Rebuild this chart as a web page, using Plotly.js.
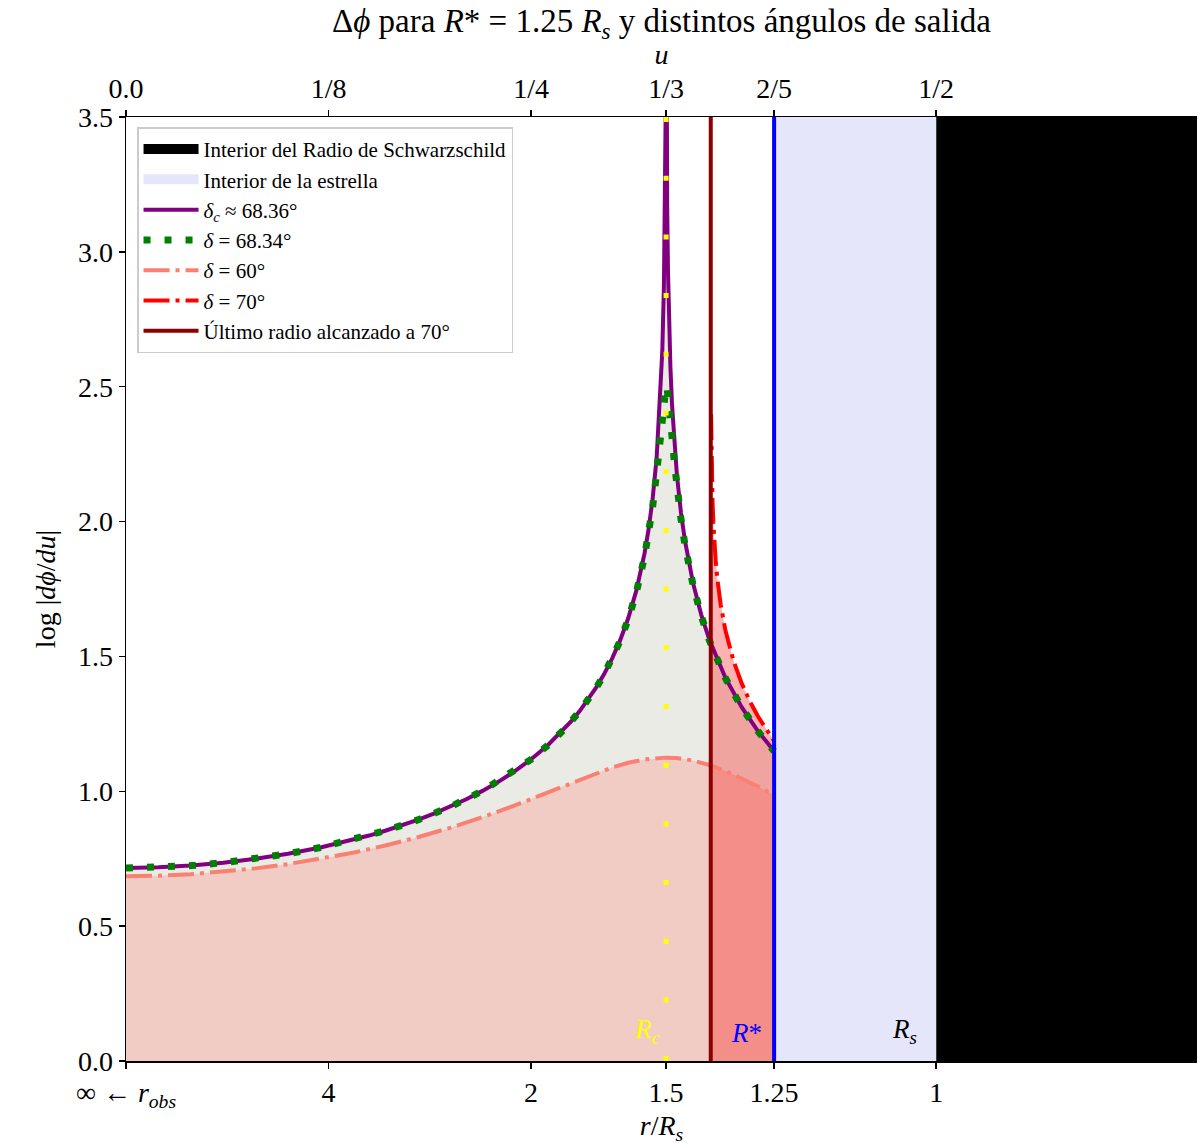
<!DOCTYPE html>
<html>
<head>
<meta charset="utf-8">
<script src="https://cdn.plot.ly/plotly-3.0.1.min.js"></script>
<style>
html, body { margin: 0; padding: 0; background: #ffffff; }
#chart { width: 1199px; height: 1147px; }
</style>
</head>
<body>
<div id="chart"></div>
<script>
// ---- data ----
// u values and log|dphi/du| for the critical angle delta_c ~ 68.36 deg
const uCrit = [0,0.02,0.04,0.06,0.08,0.10,0.12,0.14,0.15,0.16,0.17,0.18,0.19,0.20,0.21,0.22,0.23,0.24,0.25,0.26,0.27,0.275,0.28,0.285,0.29,0.295,0.30,0.305,0.31,0.315,0.32,0.3225,0.325,0.3275,0.33,0.331,0.332,0.3325,0.333,0.3333,0.3334,0.3338,0.334,0.3345,0.335,0.336,0.337,0.3385,0.34,0.3425,0.345,0.35,0.355,0.36,0.37,0.38,0.39,0.40];
const logCrit = [0.7157,0.7180,0.7245,0.7351,0.7497,0.7685,0.7917,0.8199,0.8359,0.8536,0.8728,0.8939,0.9170,0.9424,0.9704,1.0015,1.0360,1.0748,1.1188,1.1691,1.2278,1.2610,1.2975,1.3378,1.3829,1.4337,1.4921,1.5604,1.6424,1.7449,1.8810,1.9700,2.0828,2.2366,2.4786,2.6330,2.8757,3.0796,3.4771,4.477,4.176,3.3308,3.176,2.9325,2.778,2.5728,2.434,2.2846,2.1732,2.0339,1.9281,1.7711,1.6550,1.5627,1.4203,1.3116,1.2234,1.1489];

// delta = 68.34 deg
const u6834 = [0,0.02,0.04,0.06,0.08,0.10,0.12,0.14,0.16,0.18,0.20,0.22,0.24,0.25,0.26,0.27,0.28,0.285,0.29,0.295,0.30,0.305,0.31,0.315,0.32,0.3225,0.325,0.3275,0.33,0.331,0.332,0.333,0.3333,0.334,0.335,0.336,0.337,0.3385,0.34,0.3425,0.345,0.35,0.355,0.36,0.37,0.38,0.39,0.40];
const log6834 = [0.7156,0.7179,0.7244,0.7350,0.7496,0.7684,0.7916,0.8198,0.8535,0.8938,0.9422,1.0013,1.0745,1.1184,1.1687,1.2272,1.2967,1.3368,1.3816,1.4322,1.4900,1.5576,1.6383,1.7383,1.8688,1.9520,2.0534,2.1806,2.3396,2.4074,2.4663,2.4998,2.5022,2.4927,2.4483,2.3842,2.3150,2.2167,2.1301,2.0101,1.9131,1.7637,1.6507,1.5599,1.4189,1.3107,1.2228,1.1485];

// delta = 60 deg
const u60 = [0,0.02,0.04,0.06,0.08,0.10,0.12,0.14,0.16,0.18,0.20,0.22,0.24,0.26,0.28,0.29,0.30,0.31,0.32,0.3333,0.34,0.35,0.36,0.37,0.38,0.39,0.40];
const log60 = [0.6850,0.6869,0.6926,0.7017,0.7142,0.7301,0.7493,0.7722,0.7988,0.8295,0.8645,0.9040,0.9478,0.9953,1.0439,1.0670,1.0881,1.1056,1.1182,1.1248,1.1230,1.1140,1.0976,1.0752,1.0482,1.0180,0.9860];

// delta = 70 deg (only reaches down to the last radius)
const u70 = [0.3611,0.3612,0.3615,0.362,0.3625,0.363,0.364,0.365,0.367,0.37,0.375,0.38,0.385,0.39,0.395,0.40];
const log70 = [2.399,2.330,2.198,2.074,1.995,1.936,1.849,1.786,1.693,1.595,1.483,1.400,1.334,1.278,1.230,1.186];

// special radii in u
const uLastRadius = 0.3609;   // last radius reached at 70 deg
const uPhotonSphere = 1/3;    // R_c
const uStar = 0.4;            // R* = 1.25 Rs
const uSchw = 0.5;            // Rs
const uMax = 0.661;
const yMax = 3.5;

// tick labels
const tickU = [0, 0.125, 0.25, 1/3, 0.4, 0.5];
const tickTop = ['0.0', '1/8', '1/4', '1/3', '2/5', '1/2'];
const tickBottom = ['∞ ← <i>r</i><sub><i>obs</i></sub>', '4', '2', '1.5', '1.25', '1'];
const tickY = [0, 0.5, 1.0, 1.5, 2.0, 2.5, 3.0, 3.5];

// ---- chart ----
const FONT = 'Liberation Serif, DejaVu Serif, serif';

const traces = [
  { // black region
    x: [uSchw, uMax, uMax, uSchw, uSchw], y: [0, 0, yMax, yMax, 0],
    type: 'scatter', mode: 'lines', fill: 'toself', fillcolor: '#000000',
    line: {width: 0, color: '#000000'}, showlegend: false, hoverinfo: 'skip'
  },
  { // star interior
    x: [uStar, uSchw, uSchw, uStar, uStar], y: [0, 0, yMax, yMax, 0],
    type: 'scatter', mode: 'lines', fill: 'toself', fillcolor: 'rgb(230,230,250)',
    line: {width: 0, color: 'rgb(230,230,250)'}, showlegend: false, hoverinfo: 'skip'
  },
  { // legend entry: black region
    x: [null], y: [null], type: 'scatter', mode: 'lines',
    line: {width: 16, color: '#000000'}, name: 'Interior del Radio de Schwarzschild'
  },
  { // legend entry: star interior
    x: [null], y: [null], type: 'scatter', mode: 'lines',
    line: {width: 16, color: 'rgb(230,230,250)'}, name: 'Interior de la estrella'
  },
  { // gray fill under critical curve
    x: uCrit, y: logCrit, type: 'scatter', mode: 'lines', fill: 'tozeroy',
    fillcolor: 'rgb(234,235,229)', line: {width: 0}, showlegend: false, hoverinfo: 'skip'
  },
  { // salmon fill under 60
    x: u60, y: log60, type: 'scatter', mode: 'lines', fill: 'tozeroy',
    fillcolor: 'rgb(240,204,197)', line: {width: 0}, showlegend: false, hoverinfo: 'skip'
  },
  { // red translucent fill under 70
    x: u70, y: log70, type: 'scatter', mode: 'lines', fill: 'tozeroy',
    fillcolor: 'rgba(255,0,0,0.30)', line: {width: 0}, showlegend: false, hoverinfo: 'skip'
  },
  {
    x: uCrit, y: logCrit, type: 'scatter', mode: 'lines',
    line: {color: 'purple', width: 4}, name: '<i>δ<sub>c</sub></i> ≈ 68.36°'
  },
  {
    x: u6834, y: log6834, type: 'scatter', mode: 'lines',
    line: {color: 'green', width: 7, dash: '7px,14px'}, name: '<i>δ</i> = 68.34°'
  },
  {
    x: u60, y: log60, type: 'scatter', mode: 'lines',
    line: {color: 'salmon', width: 4, dash: '26px,6px,4px,6px'}, name: '<i>δ</i> = 60°'
  },
  {
    x: u70, y: log70, type: 'scatter', mode: 'lines',
    line: {color: 'red', width: 4, dash: '26px,6px,4px,6px'}, name: '<i>δ</i> = 70°'
  },
  {
    x: [uLastRadius, uLastRadius], y: [0, yMax], type: 'scatter', mode: 'lines',
    line: {color: '#8b0000', width: 4}, name: 'Último radio alcanzado a 70°'
  },
  {
    x: [uStar, uStar], y: [0, yMax], type: 'scatter', mode: 'lines',
    line: {color: 'blue', width: 4}, showlegend: false
  },
  { // photon sphere marker, plotted on the top (u) axis
    x: [uPhotonSphere, uPhotonSphere], y: [yMax, 0], type: 'scatter', mode: 'lines',
    xaxis: 'x2', yaxis: 'y',
    line: {color: 'yellow', width: 5, dash: '5px,53.7px'}, showlegend: false
  }
];

const layout = {
  width: 1199, height: 1147,
  margin: {l: 126, r: 2, t: 117, b: 86, pad: 0},
  paper_bgcolor: '#ffffff', plot_bgcolor: '#ffffff',
  font: {family: FONT, size: 28, color: '#000000'},
  title: {
    text: 'Δ<i>ϕ</i> para <i>R</i>* = 1.25 <i>R<sub>s</sub></i> y distintos ángulos de salida',
    font: {family: FONT, size: 33, color: '#000000'},
    x: 0.5, xref: 'paper', xanchor: 'center', y: 0.9825, yref: 'container', yanchor: 'middle'
  },
  showlegend: true,
  legend: {
    x: 0.0103, y: 0.989, xanchor: 'left', yanchor: 'top',
    bgcolor: 'rgba(255,255,255,0.9)', bordercolor: '#cccccc', borderwidth: 1.5,
    font: {family: FONT, size: 21, color: '#000000'},
    itemwidth: 55, tracegroupgap: 0
  },
  xaxis: {
    range: [0, uMax], side: 'bottom', anchor: 'y',
    tickmode: 'array', tickvals: tickU, ticktext: tickBottom,
    ticks: 'outside', ticklen: 6, tickwidth: 1.5, tickcolor: '#000',
    showline: true, linecolor: '#000', linewidth: 1.5, mirror: false,
    showgrid: false, zeroline: false,
    tickfont: {family: FONT, size: 28, color: '#000'},
    title: {text: '<i>r</i>/<i>R<sub>s</sub></i>', font: {family: FONT, size: 28, color: '#000'}, standoff: 4}
  },
  xaxis2: {
    range: [0, uMax], side: 'top', overlaying: 'x', anchor: 'y',
    tickmode: 'array', tickvals: tickU, ticktext: tickTop,
    ticks: 'outside', ticklen: 6, tickwidth: 1.5, tickcolor: '#000',
    showline: true, linecolor: '#000', linewidth: 1.5,
    showgrid: false, zeroline: false,
    tickfont: {family: FONT, size: 28, color: '#000'},
    title: {text: '<i>u</i>', font: {family: FONT, size: 28, color: '#000'}, standoff: 0}
  },
  yaxis: {
    range: [0, yMax], tickmode: 'array', tickvals: tickY,
    ticktext: tickY.map(v => v.toFixed(1)),
    ticks: 'outside', ticklen: 6, tickwidth: 1.5, tickcolor: '#000',
    showline: true, linecolor: '#000', linewidth: 1.5,
    showgrid: false, zeroline: false,
    tickfont: {family: FONT, size: 28, color: '#000'},
    title: {text: 'log |<i>dϕ</i>/<i>du</i>|', font: {family: FONT, size: 28, color: '#000'}, standoff: 14}
  },
  annotations: [
    {x: 0.3315, y: 0.04, xref: 'x', yref: 'y', xanchor: 'right', yanchor: 'bottom', showarrow: false,
     text: '<i>R<sub>c</sub></i>', font: {family: FONT, size: 27, color: 'yellow'}},
    {x: 0.3935, y: 0.04, xref: 'x', yref: 'y', xanchor: 'right', yanchor: 'bottom', showarrow: false,
     text: '<i>R</i>*', font: {family: FONT, size: 27, color: 'blue'}},
    {x: 0.4895, y: 0.04, xref: 'x', yref: 'y', xanchor: 'right', yanchor: 'bottom', showarrow: false,
     text: '<i>R<sub>s</sub></i>', font: {family: FONT, size: 27, color: '#000'}}
  ]
};

Plotly.newPlot('chart', traces, layout, {displayModeBar: false, staticPlot: true});
</script>
</body>
</html>
